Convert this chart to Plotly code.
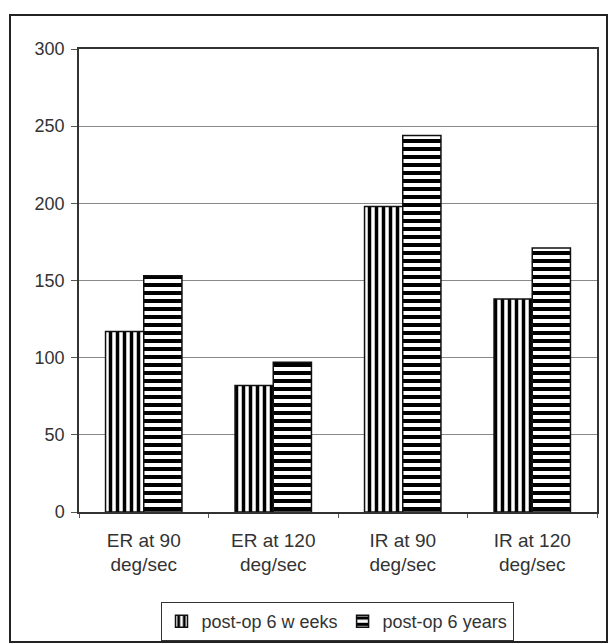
import plotly.graph_objects as go

categories = ["ER at 90<br>deg/sec", "ER at 120<br>deg/sec", "IR at 90<br>deg/sec", "IR at 120<br>deg/sec"]
weeks6 = [117, 82, 198, 138]
years6 = [153, 97, 244, 171]
series_names = ["post-op 6 w eeks", "post-op 6 years"]
y_ticks = [0, 50, 100, 150, 200, 250, 300]

W, H = 608, 643
L, R, T, B = 79, 11, 49, 131
pw, ph = W - L - R, H - T - B

def px_x(p):
    return (p - L) / pw

def px_y(p):
    return (H - B - p) / ph

FONT = "Liberation Sans"

fig = go.Figure()
fig.add_trace(go.Bar(
    x=categories, y=weeks6, name=series_names[0],
    marker=dict(color="white", line=dict(color="#111", width=1.5),
                pattern=dict(shape="|", fgcolor="#000", bgcolor="white", fgopacity=1,
                             size=7, solidity=0.5)),
))
fig.add_trace(go.Bar(
    x=categories, y=years6, name=series_names[1],
    marker=dict(color="white", line=dict(color="#111", width=1.5),
                pattern=dict(shape="-", fgcolor="#000", bgcolor="white", fgopacity=1,
                             size=8, solidity=0.5)),
))

fig.update_layout(
    width=W, height=H,
    margin=dict(l=L, r=R, t=T, b=B, autoexpand=False),
    paper_bgcolor="white", plot_bgcolor="white",
    barmode="group", bargap=0.41, bargroupgap=0,
    font=dict(family=FONT, size=16, color="#333"),
    showlegend=True,
    legend=dict(orientation="h", x=px_x(337), xanchor="center", y=px_y(602), yanchor="top",
                bordercolor="#333", borderwidth=1, bgcolor="white",
                font=dict(family=FONT, size=18, color="#333"), itemwidth=30, tracegroupgap=0),
    xaxis=dict(showline=True, linecolor="#333", linewidth=1.5, mirror=True,
               ticks="outside", tickson="boundaries", ticklen=4, tickcolor="#555",
               ticklabelstandoff=10,
               tickfont=dict(family=FONT, size=19, color="#333"), showgrid=False),
    yaxis=dict(range=[0, 300], tickvals=y_ticks, showline=True, linecolor="#333", linewidth=1.5, mirror=True,
               ticks="outside", ticklen=6, tickcolor="#555", ticklabelstandoff=3,
               showgrid=True, gridcolor="#888", gridwidth=1,
               tickfont=dict(family=FONT, size=18, color="#333"), zeroline=False),
    shapes=[dict(type="rect", xref="paper", yref="paper",
                 x0=px_x(10), x1=px_x(607), y0=px_y(642), y1=px_y(15),
                 line=dict(color="#222", width=2), layer="below")],
)

fig.write_html("out.html", config={"displayModeBar": False},
               post_script="document.body.style.margin='0px';document.body.style.padding='0px';")
